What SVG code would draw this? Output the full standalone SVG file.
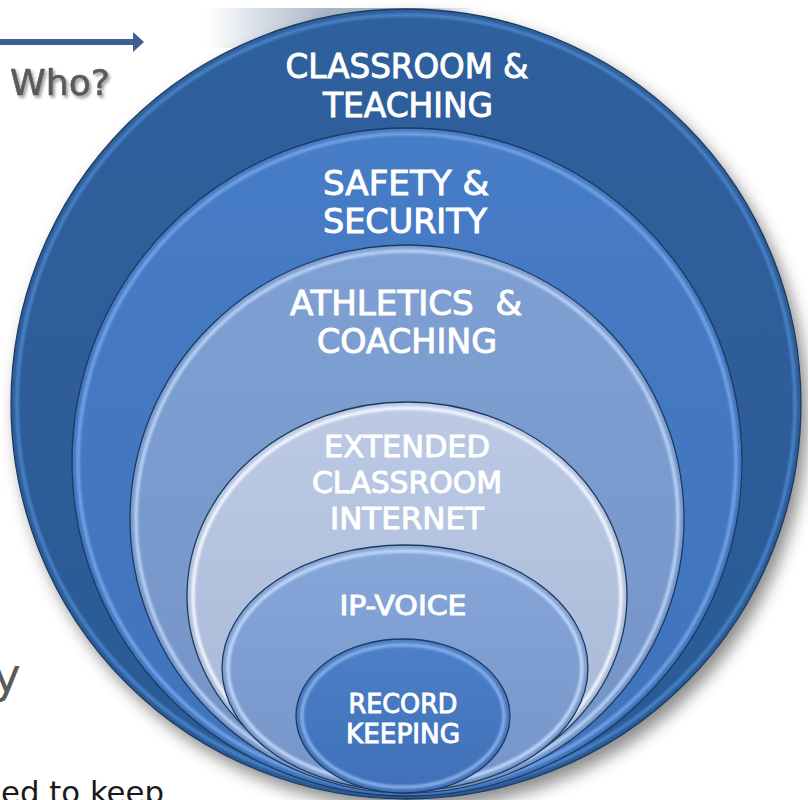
<svg xmlns="http://www.w3.org/2000/svg" width="808" height="800" viewBox="0 0 808 800">
<defs>
<style>
.lbl{font-family:"DejaVu Sans Condensed","DejaVu Sans","Liberation Sans",sans-serif;font-weight:normal;fill:#ffffff;stroke:#ffffff;stroke-width:0.9;text-anchor:middle;white-space:pre}
.edge{stroke:#1e3a5e;stroke-width:1.3}
.bev{fill:none;stroke-width:3.5;filter:url(#soft)}
.gray{font-family:"DejaVu Sans","Liberation Sans",sans-serif;fill:#5a5a5a}
</style>
<filter id="soft" x="-5%" y="-5%" width="110%" height="110%"><feGaussianBlur stdDeviation="1.1"/></filter>
<filter id="shadow" x="-10%" y="-10%" width="125%" height="125%"><feDropShadow dx="6" dy="9" stdDeviation="8" flood-color="#000" flood-opacity="0.45"/></filter>
<filter id="tshadow" x="-10%" y="-10%" width="130%" height="140%"><feDropShadow dx="2" dy="2.5" stdDeviation="1.6" flood-color="#000" flood-opacity="0.4"/></filter>
<linearGradient id="bg" x1="0" y1="0" x2="1" y2="0">
<stop offset="0" stop-color="#ffffff"/><stop offset="0.45" stop-color="#a9b6c8"/><stop offset="0.75" stop-color="#a9b6c8"/><stop offset="1" stop-color="#ffffff"/>
</linearGradient>
<linearGradient id="g1" x1="0" y1="0" x2="0" y2="1"><stop offset="0" stop-color="#2f609d"/><stop offset="1" stop-color="#2b5a95"/></linearGradient>
<linearGradient id="g2" x1="0" y1="0" x2="0" y2="1"><stop offset="0" stop-color="#477cc6"/><stop offset="1" stop-color="#3f73bb"/></linearGradient>
<linearGradient id="g3" x1="0" y1="0" x2="0" y2="1"><stop offset="0" stop-color="#7fa0d3"/><stop offset="1" stop-color="#7494c8"/></linearGradient>
<linearGradient id="g4" x1="0" y1="0" x2="0" y2="1"><stop offset="0" stop-color="#bccae4"/><stop offset="1" stop-color="#a6b7d5"/></linearGradient>
<linearGradient id="g5" x1="0" y1="0" x2="0" y2="1"><stop offset="0" stop-color="#87a7d9"/><stop offset="1" stop-color="#7595ca"/></linearGradient>
<linearGradient id="g6" x1="0" y1="0" x2="0" y2="1"><stop offset="0" stop-color="#4d80c8"/><stop offset="1" stop-color="#3f70b8"/></linearGradient>
</defs>
<rect width="808" height="800" fill="#ffffff"/>
<rect x="205" y="8" width="270" height="40" fill="url(#bg)"/>
<g id="connectors">
<path d="M0 39 H133 V32 L144 42 L133 52 V45 H0 Z" fill="#3b6094"/>
</g>
<g id="who">
<text class="gray" x="10" y="95" font-size="36" stroke="#5a5a5a" stroke-width="0.6" textLength="100" lengthAdjust="spacingAndGlyphs" filter="url(#tshadow)">Who?</text>
</g>
<g id="page-text">
<text class="gray" x="21" y="692" font-size="48" text-anchor="end">y</text>
<text x="1" y="803" font-family="DejaVu Sans,Liberation Sans,sans-serif" font-size="31" fill="#1a1a1a" textLength="163" lengthAdjust="spacingAndGlyphs">ed to keep</text>
</g>
<g id="classroom-teaching">
<ellipse cx="406" cy="404" rx="395" ry="395" fill="url(#g1)" class="edge" filter="url(#shadow)"/>
<ellipse cx="406" cy="404" rx="389" ry="389" class="bev" stroke="#4a82c8"/>
<text class="lbl" x="407" y="78" font-size="34" textLength="243" lengthAdjust="spacingAndGlyphs">CLASSROOM &amp;</text>
<text class="lbl" x="408" y="117" font-size="34" textLength="170" lengthAdjust="spacingAndGlyphs">TEACHING</text>
</g>
<g id="safety-security">
<ellipse cx="407" cy="462" rx="335" ry="334" fill="url(#g2)" class="edge"/>
<ellipse cx="407" cy="462" rx="329" ry="328" class="bev" stroke="#72a2e4"/>
<text class="lbl" x="406" y="195" font-size="34" textLength="166" lengthAdjust="spacingAndGlyphs">SAFETY &amp;</text>
<text class="lbl" x="405" y="233" font-size="34" textLength="164" lengthAdjust="spacingAndGlyphs">SECURITY</text>
</g>
<g id="athletics-coaching">
<ellipse cx="407" cy="519" rx="277" ry="274" fill="url(#g3)" class="edge"/>
<ellipse cx="407" cy="519" rx="271" ry="268" class="bev" stroke="#b8d0f4"/>
<text class="lbl" x="406" y="315" font-size="34" textLength="232" lengthAdjust="spacingAndGlyphs">ATHLETICS  &amp;</text>
<text class="lbl" x="407" y="353" font-size="34" textLength="180" lengthAdjust="spacingAndGlyphs">COACHING</text>
</g>
<g id="extended-classroom-internet">
<ellipse cx="407" cy="596" rx="220" ry="194" fill="url(#g4)" class="edge"/>
<ellipse cx="407" cy="596" rx="214" ry="188" class="bev" stroke="#f2f6ff"/>
<text class="lbl" x="407" y="457" font-size="30" textLength="166" lengthAdjust="spacingAndGlyphs">EXTENDED</text>
<text class="lbl" x="407" y="493" font-size="30" textLength="190" lengthAdjust="spacingAndGlyphs">CLASSROOM</text>
<text class="lbl" x="407" y="529" font-size="30" textLength="154" lengthAdjust="spacingAndGlyphs">INTERNET</text>
</g>
<g id="ip-voice">
<ellipse cx="405" cy="668" rx="183" ry="123" fill="url(#g5)" class="edge"/>
<ellipse cx="405" cy="668" rx="177" ry="117" class="bev" stroke="#c0d6f8"/>
<text class="lbl" x="403" y="615" font-size="27" textLength="127" lengthAdjust="spacingAndGlyphs">IP-VOICE</text>
</g>
<g id="record-keeping">
<ellipse cx="403" cy="716" rx="107" ry="77" fill="url(#g6)" class="edge"/>
<ellipse cx="403" cy="716" rx="101" ry="71" class="bev" stroke="#86aeea"/>
<text class="lbl" x="403" y="713" font-size="27" textLength="109" lengthAdjust="spacingAndGlyphs">RECORD</text>
<text class="lbl" x="403" y="743" font-size="27" textLength="114" lengthAdjust="spacingAndGlyphs">KEEPING</text>
</g>
</svg>
